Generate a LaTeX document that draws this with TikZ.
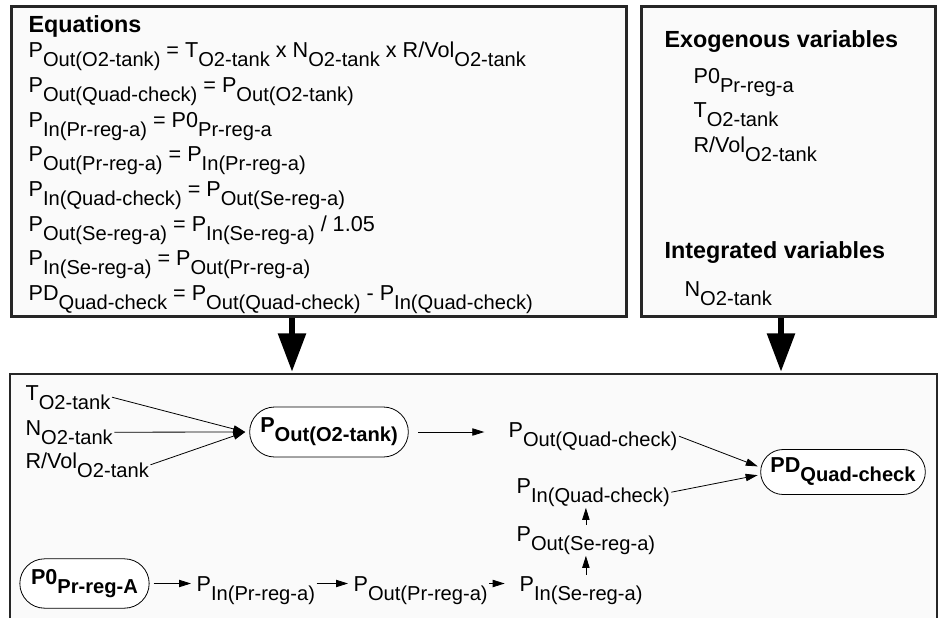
\documentclass[tikz,border=0pt]{standalone}
\usepackage{fontspec}
\setmainfont{Liberation Sans}
\usetikzlibrary{arrows.meta,positioning,shapes.misc}

% lowered subscript, as the panels print it
\newcommand{\lowsub}[1]{\raisebox{-6.8pt}{\fontsize{15.1}{16}\selectfont #1}}

\tikzset{
    panel/.style={draw=black!85, line width=2.2pt, fill=black!2, inner sep=0pt},
    txt/.style={anchor=base west, inner sep=1pt, font=\fontsize{16.2}{18}\selectfont},
    head/.style={txt, font=\fontsize{17.5}{18}\selectfont\bfseries},
    state/.style={draw, rounded rectangle, fill=white, line width=0.6pt,
        font=\fontsize{16.2}{18}\selectfont\bfseries, inner sep=2pt},
    arr/.style={-{Triangle[length=9pt,width=5.5pt]}, line width=0.6pt},
    bigarr/.style={-{Triangle[length=29pt,width=20pt]}, line width=5pt}
}

\begin{document}
\begin{tikzpicture}[x=0.75pt, y=-0.75pt]
    \useasboundingbox (0,0) rectangle (939,618);

    % Define panels
    \node[panel, anchor=north west, minimum width=461.25pt, minimum height=232.5pt] (eqs) at (10,5) {};
    \node[panel, anchor=north west, minimum width=220.5pt, minimum height=232.5pt] (vars) at (640,5) {};
    \fill[black!2] (10,374) rectangle (937,618);
    \draw[draw=black!85, line width=2.2pt] (10,618) |- (937,374) -- (937,618);
    \coordinate (inA) at (292,372);
    \coordinate (inB) at (781,372);

    % Equations
    \node[head] (eqhead) at (27,32) {Equations};
    \node[txt] (eq1) at (27,57) {P\lowsub{Out(O2-tank)} = T\lowsub{O2-tank} x N\lowsub{O2-tank} x R/Vol\lowsub{O2-tank}};
    \node[txt] (eq2) at (27,92) {P\lowsub{Out(Quad-check)} = P\lowsub{Out(O2-tank)}};
    \node[txt] (eq3) at (27,127) {P\lowsub{In(Pr-reg-a)} = P0\lowsub{Pr-reg-a}};
    \node[txt] (eq4) at (27,161) {P\lowsub{Out(Pr-reg-a)} = P\lowsub{In(Pr-reg-a)}};
    \node[txt] (eq5) at (27,196) {P\lowsub{In(Quad-check)} = P\lowsub{Out(Se-reg-a)}};
    \node[txt] (eq6) at (27,231) {P\lowsub{Out(Se-reg-a)} = P\lowsub{In(Se-reg-a)} / 1.05};
    \node[txt] (eq7) at (27,265) {P\lowsub{In(Se-reg-a)} = P\lowsub{Out(Pr-reg-a)}};
    \node[txt] (eq8) at (27,300) {PD\lowsub{Quad-check} = P\lowsub{Out(Quad-check)} - P\lowsub{In(Quad-check)}};

    % Variables
    \node[head] (exohead) at (663,47) {Exogenous variables};
    \node[txt] (exo1) at (692,83) {P0\lowsub{Pr-reg-a}};
    \node[txt] (exo2) at (692,117) {T\lowsub{O2-tank}};
    \node[txt] (exo3) at (692,152) {R/Vol\lowsub{O2-tank}};
    \node[head] (inthead) at (663,258) {Integrated variables};
    \node[txt] (int1) at (683,296) {N\lowsub{O2-tank}};

    % Panels feed the model
    \draw[bigarr] (inA |- eqs.south) -- (inA);
    \draw[bigarr] (inB |- vars.south) -- (inB);

    % Model nodes
    \node[txt] (tank) at (24,400) {T\lowsub{O2-tank}};
    \node[txt] (moles) at (24,435) {N\lowsub{O2-tank}};
    \node[txt] (rvol) at (24,468) {R/Vol\lowsub{O2-tank}};
    \node[state, minimum width=123pt, minimum height=37.5pt] (pout) at (329,432) {P\lowsub{Out(O2-tank)}};
    \node[txt] (poutq) at (507,437) {P\lowsub{Out(Quad-check)}};
    \node[txt] (pinq) at (515,493) {P\lowsub{In(Quad-check)}};
    \node[txt] (poutse) at (515,541) {P\lowsub{Out(Se-reg-a)}};
    \node[txt] (pinse) at (518,591) {P\lowsub{In(Se-reg-a)}};
    \node[state, minimum width=127.5pt, minimum height=33.75pt] (pd) at (843,472) {PD\lowsub{Quad-check}};
    \node[state, minimum width=101pt, minimum height=37pt] (p0) at (84.5,583.5) {P0\lowsub{Pr-reg-A}};
    \node[txt] (pinpr) at (195,591) {P\lowsub{In(Pr-reg-a)}};
    \node[txt] (poutpr) at (352,591) {P\lowsub{Out(Pr-reg-a)}};

    % Draw arrows
    \draw[arr] (tank.east) -- ([xshift=-3pt]pout.west);
    \draw[arr] (moles.east) -- ([xshift=-3pt]pout.west);
    \draw[arr] (rvol.east) -- ([xshift=-3pt]pout.west);
    \draw[arr, shorten <=7pt, shorten >=17pt] (pout.east) -- (poutq.west |- pout.east);
    \draw[arr, shorten >=2pt] (poutq.east) -- ([yshift=3.5pt]pd.west);
    \draw[arr, shorten >=2pt] (pinq.east) -- ([yshift=-2pt]pd.west);
    \draw[arr] (pinse.north -| poutse) -- (poutse.south);
    \draw[arr] (poutse.north) -- (pinq.south -| poutse);
    \draw[arr, shorten <=3pt, shorten >=3pt] (p0.east) -- (pinpr.west |- p0.east);
    \draw[arr, shorten >=3pt] (pinpr.east |- p0.east) -- (poutpr.west |- p0.east);
    \draw[arr, shorten >=10pt] (poutpr.east |- p0.east) -- (pinse.west |- p0.east);
\end{tikzpicture}
\end{document}
